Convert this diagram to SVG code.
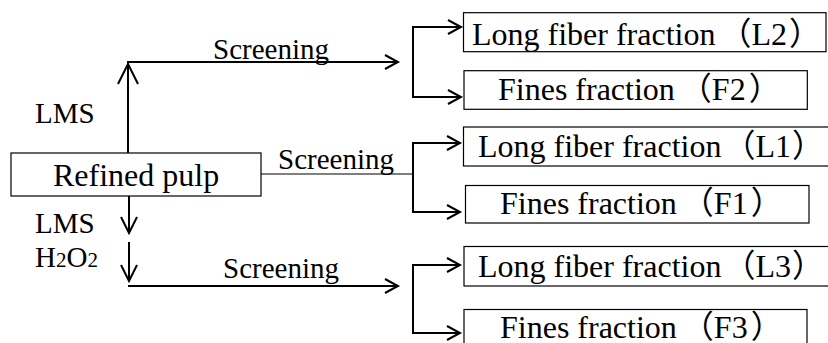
<svg xmlns="http://www.w3.org/2000/svg" width="828" height="343" viewBox="0 0 828 343">
<style>
.bg{fill:#ffffff}
.box{fill:#ffffff;stroke:#000;stroke-width:1.2}
.t{font-family:'Liberation Serif','Times New Roman','DejaVu Serif','Noto Sans CJK SC',serif;fill:#000}
.bt{font-size:32px}
.lb{font-size:29px}
.ln{fill:none;stroke:#000;stroke-width:2}
.thin{fill:none;stroke:#000;stroke-width:1.2}
</style>
<rect class="bg" x="0" y="0" width="828" height="343"/>
<g id="connectors">
<line class="ln" x1="128" y1="153" x2="128" y2="62"/>
<polyline class="ln" points="118,84 128,64 138,84"/>
<line class="ln" x1="127" y1="62" x2="398" y2="62"/>
<polyline class="ln" points="385,55 398,62 385,69"/>
<polyline class="ln" points="461,27 413,27 413,97 461,97"/>
<polyline class="ln" points="448,20 461,27 448,34"/>
<polyline class="ln" points="448,90 461,97 448,104"/>
<line class="thin" x1="261" y1="174" x2="413" y2="174"/>
<polyline class="ln" points="460,143 413,143 413,212 460,212"/>
<polyline class="ln" points="447,136 460,143 447,150"/>
<polyline class="ln" points="447,205 460,212 447,219"/>
<line class="ln" x1="129" y1="196" x2="129" y2="233"/>
<polyline class="ln" points="121,217 129,233 137,217"/>
<line class="ln" x1="129" y1="242" x2="129" y2="281"/>
<polyline class="ln" points="121,265 129,281 137,265"/>
<line class="ln" x1="128" y1="286" x2="398" y2="286"/>
<polyline class="ln" points="385,279 398,286 385,293"/>
<polyline class="ln" points="460,265 413,265 413,333 460,333"/>
<polyline class="ln" points="447,258 460,265 447,272"/>
<polyline class="ln" points="447,326 460,333 447,340"/>
</g>
<g id="labels">
<text class="t lb" x="213" y="59">Screening</text>
<text class="t lb" x="278" y="169">Screening</text>
<text class="t lb" x="223" y="278">Screening</text>
<text class="t lb" x="35" y="123">LMS</text>
<text class="t lb" x="35" y="233">LMS</text>
<text class="t lb" x="35" y="267">H<tspan font-size="21">2</tspan>O<tspan font-size="21">2</tspan></text>
</g>
<g id="refined-pulp">
<rect class="box" x="11" y="153" width="250" height="43"/>
<text class="t bt" x="53" y="186">Refined pulp</text>
</g>
<g id="L2">
<rect class="box" x="463.5" y="12.7" width="362.5" height="39"/>
<text class="t bt" x="472" y="45">Long fiber fraction<tspan dx="4">（</tspan>L2<tspan dx="2">）</tspan></text>
</g>
<g id="F2">
<rect class="box" x="464" y="70.7" width="343.3" height="38.6"/>
<text class="t bt" x="498" y="100">Fines fraction<tspan dx="5">（</tspan>F2<tspan dx="3">）</tspan></text>
</g>
<g id="L1">
<rect class="box" x="463.5" y="127" width="370" height="39"/>
<text class="t bt" x="478" y="157">Long fiber fraction<tspan dx="2">（</tspan>L1<tspan dx="1">）</tspan></text>
</g>
<g id="F1">
<rect class="box" x="465.5" y="185.5" width="343.5" height="37.5"/>
<text class="t bt" x="500" y="214">Fines fraction<tspan dx="5">（</tspan>F1<tspan dx="3">）</tspan></text>
</g>
<g id="L3">
<rect class="box" x="464" y="246.5" width="370" height="39.5"/>
<text class="t bt" x="478" y="277">Long fiber fraction<tspan dx="2">（</tspan>L3<tspan dx="1">）</tspan></text>
</g>
<g id="F3">
<rect class="box" x="464" y="309.5" width="343" height="40"/>
<text class="t bt" x="500" y="338">Fines fraction<tspan dx="5">（</tspan>F3<tspan dx="3">）</tspan></text>
</g>
</svg>
